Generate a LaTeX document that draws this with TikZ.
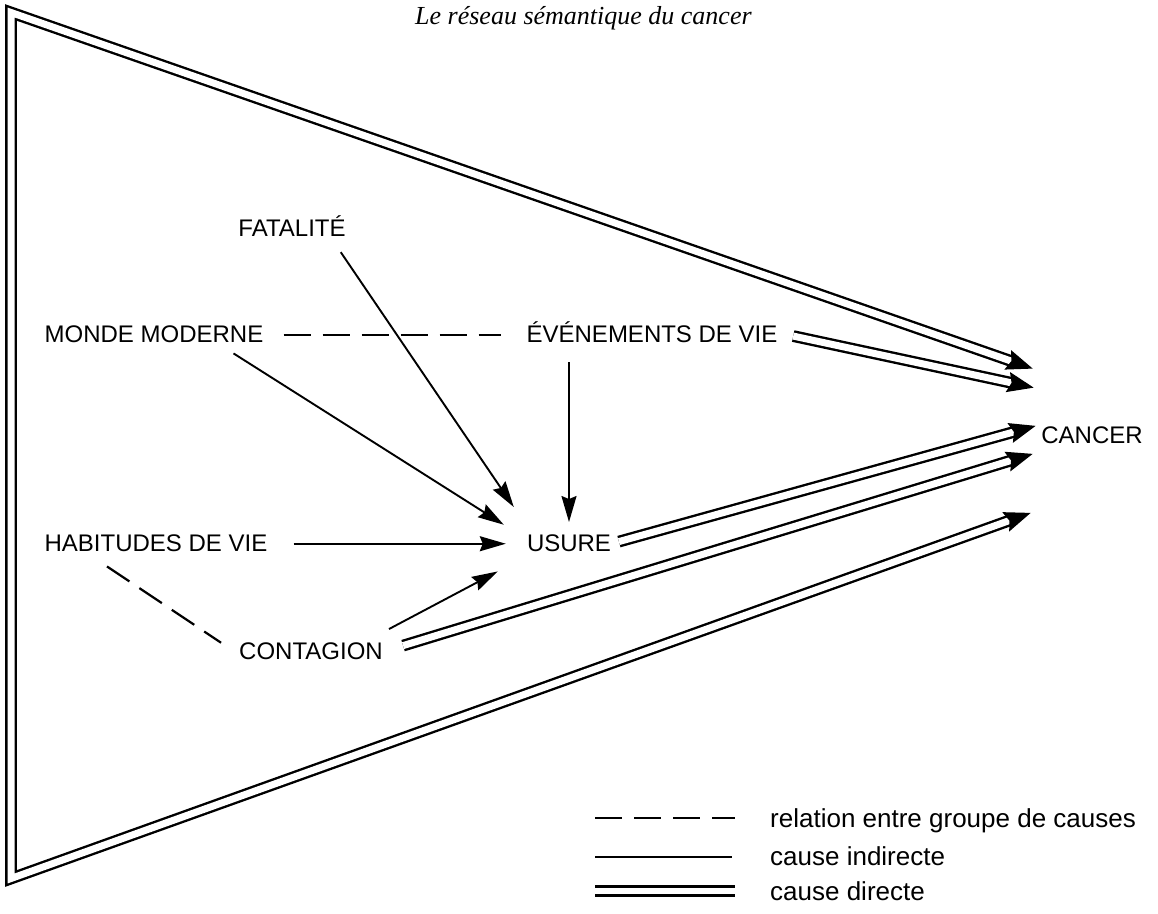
\documentclass[tikz,border=0pt]{standalone}
\usepackage{fontspec}
\setmainfont{Liberation Sans}
\newfontfamily\titlefont{Liberation Serif}
\usetikzlibrary{arrows.meta,decorations.markings}

\begin{document}
\begin{tikzpicture}[x=1pt,y=1pt]
    % Define the styles for the causes and the links
    \tikzstyle{cause}=[inner sep=0pt, anchor=base, font=\fontsize{24}{28}\selectfont]
    \tikzstyle{legend}=[inner sep=0pt, anchor=base west, font=\fontsize{26}{30}\selectfont]
    \tikzstyle{relation}=[line width=2.2pt, dash pattern=on 27pt off 12pt]
    \tikzstyle{indirect}=[line width=1.9pt, -{Stealth[length=26pt,width=15pt,inset=3pt]}]
    \tikzstyle{direct}=[double, line width=2.4pt, double distance=7pt, shorten >=18pt,
        postaction={decorate, decoration={markings, mark=at position 1 with {\arrow{Stealth[length=26pt,width=19pt,inset=3pt]}}}}]
    \tikzstyle{frame}=[direct, line join=miter, shorten <=18pt,
        postaction={decorate, decoration={markings, mark=at position 0 with {\arrowreversed{Stealth[length=26pt,width=19pt,inset=3pt]}}}}]

    \useasboundingbox (0,0) rectangle (1158,913);

    % Title
    \node[inner sep=0pt, anchor=base west, font=\titlefont\itshape\fontsize{26}{30}\selectfont] (title) at (415,888) {Le réseau sémantique du cancer};

    % Draw the causes
    \node[cause] (fatalite) at (292,676) {FATALITÉ};
    \node[cause] (monde_moderne) at (154,570) {MONDE MODERNE};
    \node[cause] (evenements_vie) at (652,570) {ÉVÉNEMENTS DE VIE};
    \node[cause] (habitudes_vie) at (156,361) {HABITUDES DE VIE};
    \node[cause] (usure) at (569,361) {USURE};
    \node[cause] (contagion) at (311,253) {CONTAGION};
    \node[cause] (cancer) at (1092,469) {CANCER};

    % Draw the relations between groups of causes
    \draw[relation, shorten <=20pt, shorten >=25pt] (monde_moderne.east) -- (monde_moderne.east -| evenements_vie.west);
    \draw[relation] ([shift={(-49pt,-14pt)}]habitudes_vie.south) -- ([shift={(-18pt,9pt)}]contagion.west);

    % Draw the indirect causes
    \draw[indirect] ([shift={(-5pt,-15pt)}]fatalite.south east) -- ([shift={(-13pt,28pt)}]usure.north west);
    \draw[indirect] ([shift={(-30pt,-10pt)}]monde_moderne.south east) -- ([shift={(-23pt,19pt)}]usure.west);
    \draw[indirect, shorten <=19pt, shorten >=13pt] (evenements_vie.south -| usure.north) -- (usure.north);
    \draw[indirect, shorten <=26pt, shorten >=21pt] (habitudes_vie.east) -- (usure.west);
    \draw[indirect] ([shift={(6pt,14pt)}]contagion.north east) -- ([shift={(-29pt,-19pt)}]usure.south west);

    % Draw the direct causes
    \draw[direct, shorten <=16pt] (evenements_vie.east) -- ([shift={(-7pt,48pt)}]cancer.west);
    \draw[direct, shorten <=8pt] (usure.east) -- ([shift={(-5pt,10pt)}]cancer.west);
    \draw[direct, shorten <=21pt] (contagion.east) -- ([shift={(-8pt,-18pt)}]cancer.west);

    % Draw the frame
    \coordinate (top_corner) at (11,900.5);
    \coordinate (bottom_corner) at (11,34.5);
    \draw[frame] ([shift={(-8pt,67pt)}]cancer.west) -- (top_corner) -- (bottom_corner) -- ([shift={(-10pt,-77pt)}]cancer.west);

    % Legend
    \node[legend] (legend_relation) at (770,86) {relation entre groupe de causes};
    \node[legend] (legend_indirect) at (770,48) {cause indirecte};
    \node[legend] (legend_direct) at (770,13) {cause directe};
    \draw[relation] ([shift={(-175pt,9pt)}]legend_relation.base west) -- ++(140pt,0pt);
    \draw[line width=1.9pt] ([shift={(-175pt,8pt)}]legend_indirect.base west) -- ++(137pt,0pt);
    \draw[double, line width=2.4pt, double distance=6.6pt] ([shift={(-175pt,9pt)}]legend_direct.base west) -- ++(140pt,0pt);
\end{tikzpicture}
\end{document}
